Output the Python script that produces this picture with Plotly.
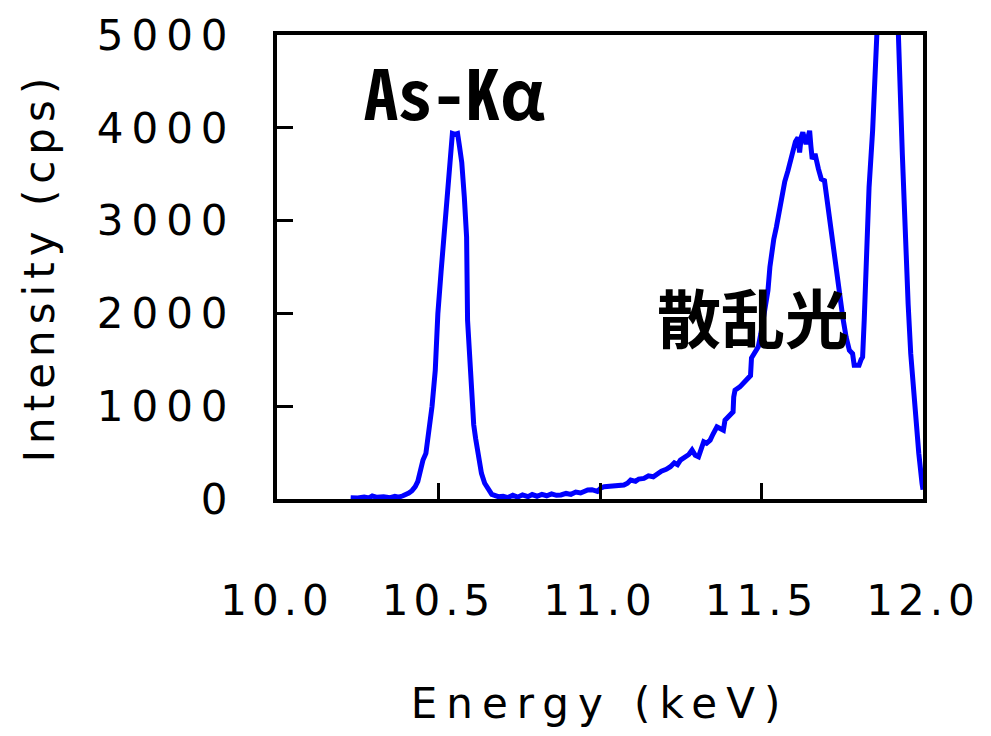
import plotly.graph_objects as go

# Energy (keV) and intensity (cps)
energy = [10.228, 10.25, 10.27, 10.285, 10.295, 10.31, 10.33, 10.35, 10.365, 10.377,
          10.39, 10.400, 10.408, 10.418, 10.428, 10.436, 10.444, 10.452, 10.461, 10.469,
          10.48, 10.490, 10.498, 10.508, 10.518, 10.527, 10.536, 10.543, 10.551, 10.559,
          10.565, 10.572, 10.58, 10.587, 10.590, 10.596, 10.602, 10.609, 10.615, 10.625,
          10.633, 10.643, 10.654, 10.665, 10.685, 10.70, 10.715, 10.73, 10.745, 10.76,
          10.777, 10.79, 10.805, 10.82, 10.835, 10.85, 10.865, 10.879, 10.895, 10.91,
          10.925, 10.94, 10.962, 10.975, 10.992, 11.003, 11.013, 11.03, 11.05, 11.074,
          11.085, 11.095, 11.11, 11.12, 11.136, 11.15, 11.165, 11.177, 11.19, 11.205,
          11.218, 11.23, 11.24, 11.249, 11.26, 11.275, 11.285, 11.295, 11.305, 11.315,
          11.321, 11.33, 11.341, 11.35, 11.362, 11.372, 11.382, 11.387, 11.40, 11.412,
          11.414, 11.418, 11.433, 11.444, 11.459, 11.466, 11.469, 11.48, 11.490, 11.498,
          11.505, 11.512, 11.520, 11.526, 11.531, 11.538, 11.546, 11.554, 11.562, 11.572,
          11.582, 11.590, 11.597, 11.605, 11.613, 11.618, 11.623, 11.628, 11.633, 11.638,
          11.644, 11.649, 11.653, 11.657, 11.662, 11.667, 11.676, 11.685, 11.695, 11.700,
          11.705, 11.712, 11.720, 11.730, 11.741, 11.752, 11.762, 11.772, 11.782, 11.787,
          11.795, 11.802, 11.808, 11.813, 11.818, 11.823, 11.833, 11.844, 11.854, 11.862,
          11.875, 11.89, 11.905, 11.918, 11.924, 11.930, 11.936, 11.946, 11.954, 11.962,
          11.972, 11.987, 11.997, 12.0]
intensity = [14, 10, 20, 12, 32, 18, 25, 15, 28, 20,
             35, 45, 64, 90, 133, 190, 330, 420, 491, 688,
             1000, 1387, 1996, 2450, 2928, 3350, 3717, 3939, 3930, 3939,
             3800, 3627, 3250, 2821, 1925, 1500, 1029, 800, 650, 420,
             276, 170, 97, 50, 25, 30, 15, 40, 20, 45,
             25, 48, 30, 50, 35, 55, 40, 43, 60, 50,
             75, 65, 97, 100, 81, 120, 133, 140, 142, 150,
             170, 204, 190, 215, 222, 250, 240, 276, 300, 320,
             348, 390, 370, 419, 440, 480, 527, 470, 455, 580,
             617, 600, 634, 700, 778, 760, 742, 849, 900, 939,
             1100, 1172, 1208, 1244, 1297, 1330, 1520, 1580, 1640, 1780,
             1925, 2080, 2247, 2500, 2677, 2800, 2928, 3100, 3287, 3420,
             3538, 3650, 3789, 3850, 3896, 3735, 3900, 3950, 3880, 3825,
             3900, 3968, 3800, 3663, 3700, 3699, 3560, 3448, 3430, 3300,
             3108, 2950, 2767, 2480, 2175, 1950, 1745, 1602, 1566, 1441,
             1441, 1441, 1500, 1530, 1925, 2498, 3358, 3968, 4613, 5300,
             6800, 7600, 7000, 5800, 5000, 4350, 3717, 2713, 2100, 1566,
             1100, 491, 168, 100]

x_ticks = [10.0, 10.5, 11.0, 11.5, 12.0]
x_tick_labels = ["10.0", "10.5", "11.0", "11.5", "12.0"]
y_ticks = [0, 1000, 2000, 3000, 4000, 5000]
y_tick_labels = ["0", "1000", "2000", "3000", "4000", "5000"]

peak_labels = ["As-Kα", "散乱光"]
peak_label_pos = [(10.55, 4400), (11.475, 1980)]
peak_label_sizes = [68, 64]

fig = go.Figure()
fig.add_trace(go.Scatter(x=energy, y=intensity, mode="lines",
                         line=dict(color="#0000FF", width=5), showlegend=False))

for txt, (ax, ay), fs in zip(peak_labels, peak_label_pos, peak_label_sizes):
    fig.add_annotation(x=ax, y=ay, text="<b>" + txt + "</b>", showarrow=False,
                       font=dict(family="Noto Sans Mono CJK JP, Noto Sans CJK JP", size=fs, color="black"))

tick_font = dict(family="DejaVu Sans", size=42, color="black")
fig.update_xaxes(range=[10, 12], tickvals=x_ticks, ticktext=x_tick_labels,
                 ticks="inside", ticklen=16, tickwidth=3, tickcolor="black",
                 showline=True, linewidth=4, linecolor="black", mirror=True,
                 showgrid=False, zeroline=False, tickfont=tick_font,
                 ticklabelstandoff=62,
                 title=dict(text="Energy (keV)", font=tick_font, standoff=72))
fig.update_yaxes(range=[0, 5000], tickvals=y_ticks, ticktext=y_tick_labels,
                 ticks="inside", ticklen=16, tickwidth=3, tickcolor="black",
                 showline=True, linewidth=4, linecolor="black", mirror=True,
                 showgrid=False, zeroline=False, tickfont=tick_font,
                 ticklabelstandoff=29,
                 title=dict(text="Intensity (cps)", font=tick_font, standoff=62))
fig.update_layout(width=975, height=720, plot_bgcolor="white", paper_bgcolor="white",
                  margin=dict(l=269, r=60, t=27, b=229, autoexpand=False))

# widen the axis lettering like the reference's wide sans font
spacing_css = ("var s=document.createElement('style');"
               "s.textContent='.xtick text{letter-spacing:5px}"
               ".ytick text{letter-spacing:8px}"
               ".g-xtitle text{letter-spacing:9px}"
               ".g-ytitle text{letter-spacing:6px}';"
               "document.head.appendChild(s);")
fig.write_html("out.html", post_script=spacing_css)
